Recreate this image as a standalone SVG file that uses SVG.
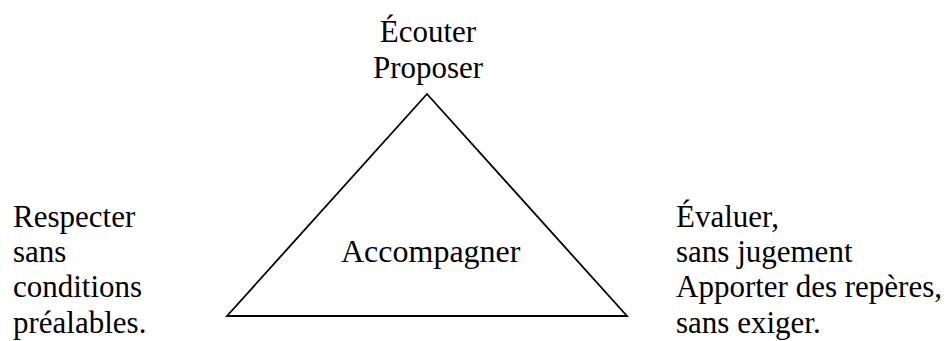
<svg xmlns="http://www.w3.org/2000/svg" width="952" height="341" viewBox="0 0 952 341">
<style>
text{font-family:"Liberation Serif","Times New Roman",serif;font-size:31px;fill:#000}
.big{font-size:32px}
.tri{fill:none;stroke:#000;stroke-width:1.8;stroke-linejoin:miter}
</style>
<rect width="952" height="341" fill="#fff"/>
<g id="connectors">
<polygon class="tri" points="427,94 227,316 627,316"/>
</g>
<g id="top">
<text x="428" y="42" text-anchor="middle">Écouter</text>
<text x="428" y="78" text-anchor="middle">Proposer</text>
</g>
<g id="center">
<text class="big" x="341" y="262">Accompagner</text>
</g>
<g id="left">
<text x="13" y="227">Respecter</text>
<text x="13" y="262">sans</text>
<text x="13" y="297">conditions</text>
<text x="13" y="333">préalables.</text>
</g>
<g id="right">
<text x="676" y="227">Évaluer,</text>
<text x="676" y="262">sans jugement</text>
<text x="676" y="297">Apporter des repères,</text>
<text x="676" y="333">sans exiger.</text>
</g>
</svg>
